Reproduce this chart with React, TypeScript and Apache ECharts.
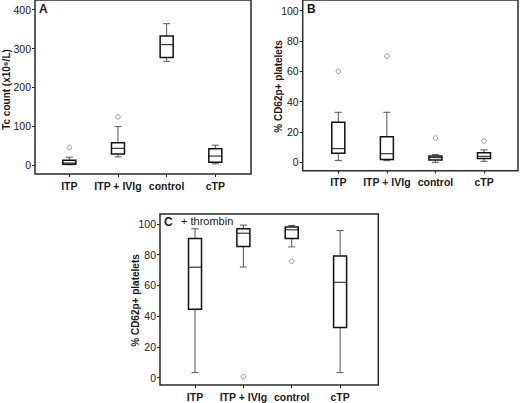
import React, { useEffect, useRef } from "react";
import * as echarts from "echarts";

// Categories shared by all three panels
const categories = ["ITP", "ITP + IVIg", "control", "cTP"];

// Panel A: Tc count (x10^9/L) — [low whisker, Q1, median, Q3, high whisker]
const tcStats = [
  [0.5, 2, 5, 12, 20],
  [21, 28, 43, 57, 99],
  [267, 277, 310, 332, 364],
  [3, 7, 23, 42, 51],
];
const tcOutliers = [
  [1, 45],
  [2, 124],
];
const tcTicks = [0, 100, 200, 300, 400];

// Panel B: % CD62p+ platelets (resting)
const restStats = [
  [1.3, 6, 9, 26.4, 33],
  [1.1, 1.8, 5.7, 16.9, 33],
  [0, 1.5, 3.1, 4.2, 5.1],
  [0.7, 2.6, 4, 6.4, 8.2],
];
const restOutliers = [
  [1, 60],
  [2, 70],
  [3, 16],
  [4, 14],
];

// Panel C: % CD62p+ platelets + thrombin
const thrStats = [
  [3.3, 44.5, 71.9, 90.6, 96.9],
  [72, 85.4, 94, 96.9, 99.3],
  [85.1, 90.6, 96.2, 98, 99],
  [3.3, 32.6, 62.1, 79.1, 95.8],
];
const thrOutliers = [
  [2, 0.7],
  [3, 75.8],
];
const pctTicks = [0, 20, 40, 60, 80, 100];
const catTicks = [1, 2, 3, 4];

const FONT = "'Liberation Sans', Arial, Helvetica, sans-serif";
const TEXT = "#1a1a1a";
const FRAME = "#2a2a2a";

function renderBox(params: any, api: any) {
  const x = api.value(0);
  const low = api.coord([x, api.value(1)]);
  const q1 = api.coord([x, api.value(2)]);
  const med = api.coord([x, api.value(3)]);
  const q3 = api.coord([x, api.value(4)]);
  const high = api.coord([x, api.value(5)]);
  const cx = low[0];
  const hw = 6.5;
  const cap = 3.5;
  const whisk = { stroke: "#555", lineWidth: 1 };
  return {
    type: "group",
    children: [
      { type: "line", shape: { x1: cx, y1: high[1], x2: cx, y2: q3[1] }, style: whisk },
      { type: "line", shape: { x1: cx, y1: q1[1], x2: cx, y2: low[1] }, style: whisk },
      { type: "line", shape: { x1: cx - cap, y1: high[1], x2: cx + cap, y2: high[1] }, style: whisk },
      { type: "line", shape: { x1: cx - cap, y1: low[1], x2: cx + cap, y2: low[1] }, style: whisk },
      {
        type: "rect",
        shape: { x: cx - hw, y: q3[1], width: hw * 2, height: Math.max(q1[1] - q3[1], 0.5) },
        style: { stroke: "#111", lineWidth: 1.5, fill: "#fff" },
      },
      { type: "line", shape: { x1: cx - hw, y1: med[1], x2: cx + hw, y2: med[1] }, style: { stroke: "#111", lineWidth: 1 } },
    ],
  };
}

function makeX(idx: number, min: number, max: number) {
  return {
    type: "value",
    gridIndex: idx,
    min,
    max,
    splitLine: { show: false },
    axisLine: { show: false, onZero: false },
    axisTick: { show: true, customValues: catTicks, length: 3, lineStyle: { color: FRAME } },
    axisLabel: {
      customValues: catTicks,
      formatter: (v: number) => categories[Math.round(v) - 1] ?? "",
      fontFamily: FONT,
      fontSize: 10.5,
      fontWeight: "bold",
      color: TEXT,
      margin: 6,
    },
  };
}

function makeY(idx: number, min: number, max: number, ticks: number[]) {
  return {
    type: "value",
    gridIndex: idx,
    min,
    max,
    splitLine: { show: false },
    axisLine: { show: false, onZero: false },
    axisTick: { show: true, customValues: ticks, length: 3, lineStyle: { color: FRAME } },
    axisLabel: {
      customValues: ticks,
      fontFamily: FONT,
      fontSize: 10.5,
      color: TEXT,
      margin: 4,
    },
  };
}

function boxSeries(idx: number, stats: number[][]) {
  return {
    type: "custom",
    xAxisIndex: idx,
    yAxisIndex: idx,
    renderItem: renderBox,
    encode: { x: 0, y: [1, 2, 3, 4, 5] },
    data: stats.map((s, i) => [i + 1, ...s]),
    z: 2,
  };
}

function outlierSeries(idx: number, pts: number[][]) {
  return {
    type: "scatter",
    xAxisIndex: idx,
    yAxisIndex: idx,
    symbol: "circle",
    symbolSize: 4.5,
    itemStyle: { color: "#fff", borderColor: "#777", borderWidth: 0.9 },
    data: pts,
    z: 3,
  };
}

function yTitle(text: string, x: number, y: number, size: number) {
  return {
    type: "text",
    x,
    y,
    rotation: Math.PI / 2,
    style: { text, font: `bold ${size}px ${FONT}`, fill: TEXT, align: "center", verticalAlign: "middle" },
  };
}

const gridStyle = { show: true, borderColor: FRAME, borderWidth: 1.5, backgroundColor: "transparent" };

export default function App() {
  const ref = useRef<HTMLDivElement>(null);
  useEffect(() => {
    if (!ref.current) return;
    const chart = echarts.init(ref.current, null, { renderer: "svg" });
    chart.setOption({
      animation: false,
      backgroundColor: "#fff",
      grid: [
        { left: 35, top: 0, width: 216, height: 174, ...gridStyle },
        { left: 302.7, top: 0, width: 215.3, height: 170.7, ...gridStyle },
        { left: 160, top: 214, width: 218.3, height: 171, ...gridStyle },
      ],
      xAxis: [makeX(0, 0.295, 4.733), makeX(1, 0.267, 4.7), makeX(2, 0.276, 4.79)],
      yAxis: [
        makeY(0, -23.2, 425, tcTicks),
        makeY(1, -5.5, 107, pctTicks),
        makeY(2, -4.75, 106.5, pctTicks),
      ],
      graphic: [
        yTitle("Tc count (x10⁹/L)", 6, 89.5, 10),
        yTitle("% CD62p+ platelets", 278, 86.5, 10),
        yTitle("% CD62p+ platelets", 135.5, 300.5, 10),
        { type: "text", left: 39, top: 3, style: { text: "A", font: `bold 12px ${FONT}`, fill: TEXT } },
        { type: "text", left: 307, top: 3, style: { text: "B", font: `bold 12px ${FONT}`, fill: TEXT } },
        { type: "text", left: 164, top: 216, style: { text: "C", font: `bold 12px ${FONT}`, fill: TEXT } },
        { type: "text", left: 181, top: 215, style: { text: "+ thrombin", font: `11px ${FONT}`, fill: TEXT } },
      ],
      series: [
        boxSeries(0, tcStats),
        outlierSeries(0, tcOutliers),
        boxSeries(1, restStats),
        outlierSeries(1, restOutliers),
        boxSeries(2, thrStats),
        outlierSeries(2, thrOutliers),
      ],
    });
    return () => chart.dispose();
  }, []);
  return <div ref={ref} style={{ position: "absolute", left: 0, top: 0, width: 520, height: 403 }} />;
}
